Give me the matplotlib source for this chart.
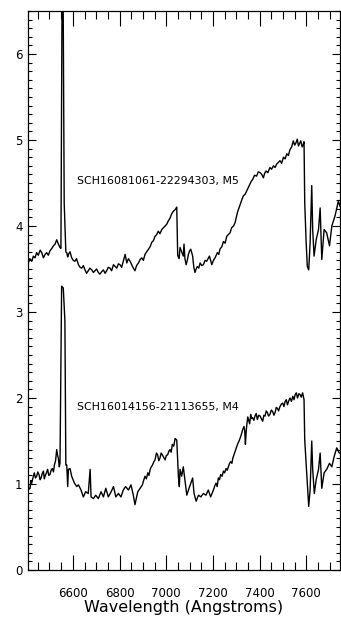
import matplotlib
matplotlib.use("Agg")
import matplotlib.pyplot as plt
from matplotlib.ticker import MultipleLocator

# M5 spectrum (upper), wavelength in Angstroms / relative flux
wave_m5 = [6409, 6416, 6424, 6431, 6438, 6445, 6452, 6460, 6467, 6474, 6481, 6488,
           6495, 6502, 6510, 6517, 6524, 6531, 6538, 6545, 6549, 6556, 6563, 6570,
           6574, 6578, 6581, 6588, 6595, 6602, 6609, 6616, 6624, 6631, 6638, 6645,
           6652, 6659, 6666, 6673, 6681, 6688, 6695, 6702, 6709, 6716, 6724, 6731,
           6738, 6745, 6752, 6759, 6766, 6774, 6781, 6788, 6795, 6802, 6809, 6816,
           6824, 6831, 6838, 6845, 6852, 6859, 6866, 6873, 6881, 6888, 6895, 6902,
           6909, 6916, 6924, 6931, 6938, 6945, 6952, 6959, 6966, 6973, 6981, 6988,
           6995, 7002, 7009, 7016, 7023, 7030, 7038, 7045, 7049, 7055, 7059, 7066,
           7073, 7076, 7080, 7085, 7090, 7095, 7100, 7105, 7109, 7113, 7118, 7123,
           7128, 7133, 7139, 7145, 7152, 7159, 7166, 7173, 7179, 7185, 7190, 7195,
           7202, 7209, 7214, 7219, 7225, 7230, 7238, 7245, 7252, 7259, 7266, 7273,
           7280, 7288, 7295, 7300, 7305, 7310, 7316, 7323, 7330, 7338, 7345, 7352,
           7359, 7364, 7370, 7378, 7387, 7394, 7402, 7409, 7416, 7421, 7427, 7435,
           7444, 7451, 7459, 7466, 7473, 7480, 7487, 7494, 7502, 7509, 7516, 7523,
           7530, 7537, 7544, 7550, 7556, 7561, 7566, 7571, 7576, 7582, 7587, 7590,
           7593, 7599, 7604, 7610, 7616, 7623, 7627, 7633, 7642, 7652, 7659, 7666,
           7676, 7687, 7699, 7709, 7723, 7737, 7744]
flux_m5 = [3.57, 3.62, 3.59, 3.65, 3.63, 3.69, 3.66, 3.72, 3.69, 3.63, 3.67, 3.69,
           3.66, 3.71, 3.74, 3.77, 3.79, 3.84, 3.79, 3.75, 3.74, 8.00, 4.27, 3.70,
           3.69, 3.64, 3.67, 3.70, 3.63, 3.60, 3.59, 3.62, 3.55, 3.52, 3.51, 3.54,
           3.49, 3.45, 3.48, 3.51, 3.49, 3.46, 3.48, 3.50, 3.46, 3.44, 3.47, 3.49,
           3.45, 3.48, 3.52, 3.51, 3.48, 3.55, 3.53, 3.51, 3.56, 3.55, 3.52, 3.59,
           3.67, 3.57, 3.62, 3.59, 3.55, 3.51, 3.48, 3.54, 3.57, 3.61, 3.63, 3.60,
           3.67, 3.70, 3.73, 3.76, 3.81, 3.83, 3.88, 3.90, 3.94, 3.91, 3.96, 3.98,
           4.00, 4.02, 4.06, 4.09, 4.14, 4.17, 4.19, 4.22, 3.66, 3.62, 3.75, 3.70,
           3.65, 3.79, 3.62, 3.55, 3.60, 3.67, 3.71, 3.73, 3.69, 3.65, 3.52, 3.46,
           3.50, 3.53, 3.51, 3.57, 3.54, 3.55, 3.60, 3.59, 3.62, 3.65, 3.60, 3.55,
           3.60, 3.63, 3.66, 3.69, 3.67, 3.73, 3.76, 3.82, 3.80, 3.88, 3.90, 3.92,
           3.98, 4.00, 4.04, 4.10, 4.16, 4.20, 4.25, 4.30, 4.35, 4.37, 4.41, 4.45,
           4.49, 4.52, 4.54, 4.59, 4.58, 4.63, 4.62, 4.60, 4.56, 4.61, 4.64, 4.62,
           4.68, 4.66, 4.70, 4.68, 4.72, 4.74, 4.76, 4.73, 4.80, 4.78, 4.84, 4.82,
           4.89, 4.92, 4.99, 4.94, 4.97, 5.01, 4.93, 4.96, 4.99, 4.92, 4.95, 4.98,
           4.27, 3.81, 3.53, 3.49, 3.80, 4.47, 3.96, 3.65, 3.84, 3.96, 4.21, 3.61,
           3.96, 3.92, 3.77, 4.00, 4.12, 4.29, 4.23]

# M4 spectrum (lower)
wave_m4 = [6407, 6412, 6417, 6420, 6424, 6430, 6435, 6440, 6445, 6450, 6455, 6460,
           6464, 6469, 6474, 6478, 6481, 6487, 6492, 6497, 6502, 6507, 6512, 6517,
           6521, 6526, 6531, 6535, 6538, 6542, 6545, 6552, 6559, 6566, 6570, 6574,
           6578, 6581, 6588, 6595, 6607, 6617, 6624, 6635, 6645, 6655, 6666, 6674,
           6678, 6688, 6698, 6709, 6721, 6731, 6741, 6752, 6764, 6774, 6784, 6795,
           6806, 6816, 6826, 6838, 6849, 6859, 6866, 6878, 6888, 6898, 6903, 6909,
           6915, 6921, 6926, 6931, 6936, 6941, 6947, 6952, 6958, 6963, 6968, 6973,
           6978, 6983, 6989, 6995, 7000, 7006, 7011, 7016, 7021, 7026, 7032, 7038,
           7045, 7052, 7056, 7059, 7066, 7073, 7080, 7088, 7095, 7105, 7113, 7119,
           7128, 7138, 7148, 7159, 7170, 7180, 7190, 7202, 7208, 7213, 7218, 7223,
           7228, 7233, 7239, 7245, 7250, 7256, 7261, 7266, 7271, 7276, 7281, 7285,
           7290, 7295, 7300, 7305, 7310, 7316, 7322, 7327, 7333, 7336, 7339, 7342,
           7345, 7349, 7352, 7357, 7362, 7366, 7370, 7375, 7380, 7385, 7390, 7396,
           7402, 7407, 7413, 7418, 7423, 7428, 7433, 7438, 7444, 7450, 7456, 7461,
           7466, 7471, 7476, 7481, 7487, 7493, 7499, 7504, 7509, 7514, 7519, 7525,
           7530, 7536, 7542, 7547, 7552, 7557, 7562, 7568, 7573, 7578, 7584, 7590,
           7593, 7599, 7604, 7610, 7616, 7623, 7627, 7634, 7642, 7652, 7659, 7666,
           7676, 7687, 7699, 7709, 7719, 7730, 7741]
flux_m4 = [0.99, 0.94, 0.95, 1.04, 1.01, 1.08, 1.13, 1.07, 1.09, 1.14, 1.11, 1.05,
           1.07, 1.12, 1.15, 1.06, 1.09, 1.13, 1.17, 1.10, 1.11, 1.16, 1.18, 1.14,
           1.22, 1.27, 1.40, 1.33, 1.30, 1.20, 1.24, 3.30, 3.28, 2.90, 1.22, 1.22,
           0.97, 1.17, 1.18, 1.09, 1.01, 0.97, 0.99, 0.93, 0.85, 0.91, 0.89, 1.17,
           0.85, 0.83, 0.87, 0.83, 0.91, 0.85, 0.95, 0.85, 0.91, 0.97, 0.85, 0.89,
           0.85, 0.93, 0.97, 0.93, 0.99, 0.87, 0.76, 0.91, 0.95, 0.99, 1.04, 1.09,
           1.06, 1.13, 1.10, 1.17, 1.20, 1.22, 1.26, 1.28, 1.36, 1.34, 1.27, 1.30,
           1.36, 1.34, 1.31, 1.28, 1.33, 1.34, 1.38, 1.40, 1.37, 1.46, 1.44, 1.53,
           1.51, 1.09, 0.97, 1.17, 1.09, 1.20, 1.05, 0.87, 0.93, 1.01, 1.07, 0.89,
           0.80, 0.87, 0.85, 0.89, 0.87, 0.93, 0.85, 0.93, 0.98, 1.01, 0.97, 1.07,
           1.05, 1.11, 1.09, 1.15, 1.13, 1.18, 1.16, 1.20, 1.24, 1.26, 1.24, 1.30,
           1.34, 1.38, 1.42, 1.46, 1.49, 1.53, 1.58, 1.63, 1.67, 1.62, 1.46, 1.60,
           1.69, 1.78, 1.75, 1.70, 1.81, 1.76, 1.77, 1.74, 1.79, 1.82, 1.75, 1.80,
           1.79, 1.76, 1.73, 1.80, 1.79, 1.85, 1.83, 1.79, 1.81, 1.86, 1.84, 1.80,
           1.83, 1.89, 1.88, 1.85, 1.90, 1.93, 1.94, 1.90, 1.96, 1.98, 1.92, 1.97,
           2.00, 1.96, 2.02, 1.98, 2.04, 2.06, 2.00, 2.05, 2.04, 2.01, 2.06, 1.98,
           1.51, 1.24, 1.01, 0.74, 0.93, 1.50, 1.17, 0.89, 1.05, 1.17, 1.36, 0.95,
           1.13, 1.17, 1.24, 1.20, 1.32, 1.42, 1.36]

labels = ["SCH16081061-22294303, M5", "SCH16014156-21113655, M4"]
label_x = [6618, 6618]
label_y = [4.52, 1.89]

fig = plt.figure(figsize=(3.41, 6.17), dpi=100)
ax = fig.add_axes([28 / 341, 47 / 617, 312 / 341, 559 / 617])

ax.plot(wave_m5, flux_m5, color="black", lw=1.0)
ax.plot(wave_m4, flux_m4, color="black", lw=1.0)

for t, x, y in zip(labels, label_x, label_y):
    ax.text(x, y, t, fontsize=7.9, va="center", ha="left")

ax.set_xlim(6408, 7744)
ax.set_ylim(0, 6.5)
ax.xaxis.set_major_locator(MultipleLocator(200))
ax.xaxis.set_minor_locator(MultipleLocator(50))
ax.yaxis.set_major_locator(MultipleLocator(1))
ax.yaxis.set_minor_locator(MultipleLocator(0.1))
ax.tick_params(axis="x", which="major", direction="in", length=11, width=0.8,
               top=True, labelsize=8.5, pad=12)
ax.tick_params(axis="x", which="minor", direction="in", length=6, width=0.8, top=True)
ax.tick_params(axis="y", which="major", direction="in", length=6, width=0.8,
               right=True, labelsize=8.5, pad=4)
ax.tick_params(axis="y", which="minor", direction="in", length=3, width=0.8, right=True)
for s in ax.spines.values():
    s.set_linewidth(0.9)

ax.set_xlabel("Wavelength (Angstroms)", fontsize=11.5, labelpad=0)

fig.savefig("out.png", dpi=100)
